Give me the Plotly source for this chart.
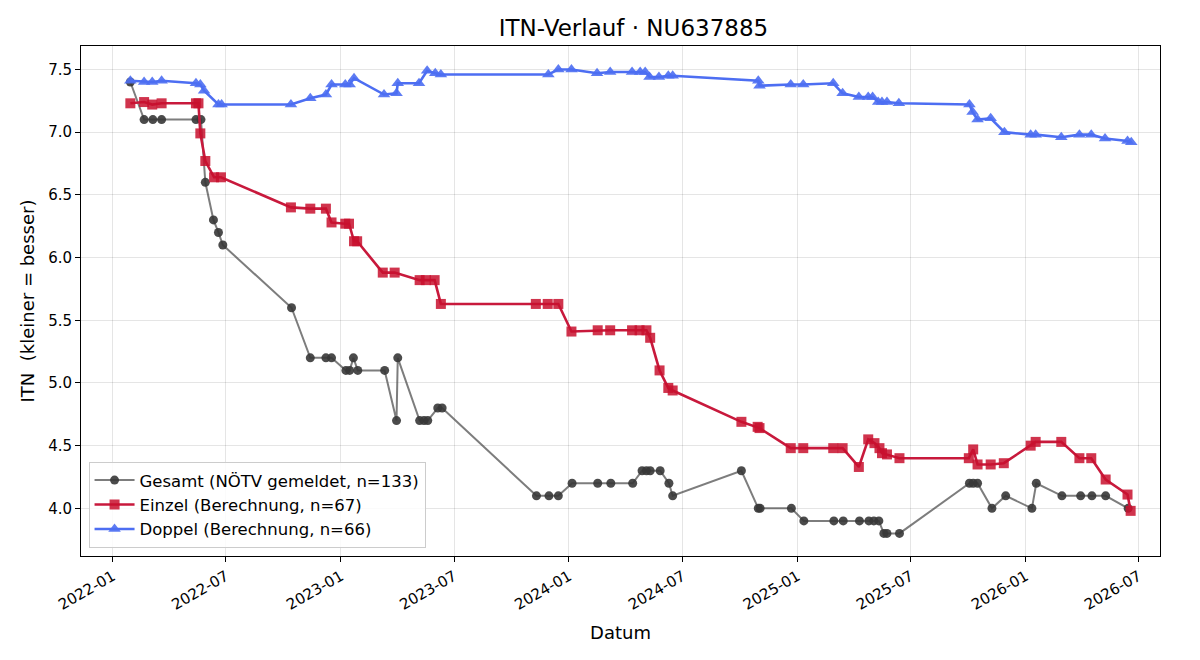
import plotly.graph_objects as go

# ---- data -------------------------------------------------------------
gesamt_dates = [
    "2022-01-29", "2022-02-20", "2022-03-06", "2022-03-20", "2022-05-14", "2022-05-22",
    "2022-05-29", "2022-06-11", "2022-06-19", "2022-06-26", "2022-10-14", "2022-11-13",
    "2022-12-08", "2022-12-17", "2023-01-09", "2023-01-15", "2023-01-21", "2023-01-28",
    "2023-03-12", "2023-03-31", "2023-04-02", "2023-05-07", "2023-05-14", "2023-05-20",
    "2023-06-05", "2023-06-12", "2023-11-10", "2023-11-30", "2023-12-15", "2024-01-06",
    "2024-02-16", "2024-03-08", "2024-04-12", "2024-04-27", "2024-05-04", "2024-05-10",
    "2024-05-26", "2024-06-09", "2024-06-15", "2024-10-03", "2024-10-30", "2024-11-02",
    "2024-12-22", "2025-01-11", "2025-02-28", "2025-03-15", "2025-04-10", "2025-04-25",
    "2025-05-03", "2025-05-11", "2025-05-19", "2025-05-24", "2025-06-13", "2025-10-03",
    "2025-10-09", "2025-10-16", "2025-11-08", "2025-11-30", "2026-01-11", "2026-01-18",
    "2026-02-28", "2026-03-30", "2026-04-17", "2026-05-09", "2026-06-14",
]
gesamt_itn = [
    7.4, 7.1, 7.1, 7.1, 7.1, 7.1,
    6.6, 6.3, 6.2, 6.1, 5.6, 5.2,
    5.2, 5.2, 5.1, 5.1, 5.2, 5.1,
    5.1, 4.7, 5.2, 4.7, 4.7, 4.7,
    4.8, 4.8, 4.1, 4.1, 4.1, 4.2,
    4.2, 4.2, 4.2, 4.3, 4.3, 4.3,
    4.3, 4.2, 4.1, 4.3, 4.0, 4.0,
    4.0, 3.9, 3.9, 3.9, 3.9, 3.9,
    3.9, 3.9, 3.8, 3.8, 3.8, 4.2,
    4.2, 4.2, 4.0, 4.1, 4.0, 4.2,
    4.1, 4.1, 4.1, 4.1, 4.0,
]

einzel_dates = [
    "2022-01-29", "2022-02-20", "2022-03-05", "2022-03-20", "2022-05-14", "2022-05-18",
    "2022-05-21", "2022-05-29", "2022-06-12", "2022-06-23", "2022-10-13", "2022-11-13",
    "2022-12-08", "2022-12-17", "2023-01-08", "2023-01-14", "2023-01-22", "2023-01-27",
    "2023-03-09", "2023-03-28", "2023-05-07", "2023-05-17", "2023-05-31", "2023-06-10",
    "2023-11-09", "2023-11-28", "2023-12-15", "2024-01-05", "2024-02-16", "2024-03-07",
    "2024-04-11", "2024-04-23", "2024-05-04", "2024-05-10", "2024-05-25", "2024-06-08",
    "2024-06-15", "2024-10-03", "2024-10-29", "2024-11-01", "2024-12-21", "2025-01-10",
    "2025-02-27", "2025-03-14", "2025-04-09", "2025-04-24", "2025-05-04", "2025-05-12",
    "2025-05-16", "2025-05-24", "2025-06-13", "2025-10-02", "2025-10-09", "2025-10-16",
    "2025-11-06", "2025-11-27", "2026-01-09", "2026-01-17", "2026-02-27", "2026-03-28",
    "2026-04-16", "2026-05-09", "2026-06-13", "2026-06-18",
]
einzel_itn = [
    7.23, 7.24, 7.22, 7.23, 7.23, 7.23,
    6.99, 6.77, 6.64, 6.64, 6.40, 6.39,
    6.39, 6.28, 6.27, 6.27, 6.13, 6.13,
    5.88, 5.88, 5.82, 5.82, 5.82, 5.63,
    5.63, 5.63, 5.63, 5.41, 5.42, 5.42,
    5.42, 5.42, 5.42, 5.36, 5.10, 4.96,
    4.94, 4.69, 4.65, 4.64, 4.48, 4.48,
    4.48, 4.48, 4.33, 4.55, 4.52, 4.48,
    4.44, 4.43, 4.40, 4.40, 4.47, 4.35,
    4.35, 4.36, 4.50, 4.53, 4.53, 4.40,
    4.40, 4.23, 4.11, 3.98,
]

doppel_dates = [
    "2022-01-29", "2022-02-20", "2022-03-05", "2022-03-20", "2022-05-14", "2022-05-21",
    "2022-05-27", "2022-06-19", "2022-06-24", "2022-10-13", "2022-11-13", "2022-12-08",
    "2022-12-17", "2023-01-08", "2023-01-15", "2023-01-22", "2023-03-11", "2023-03-31",
    "2023-04-02", "2023-05-06", "2023-05-19", "2023-06-01", "2023-06-10", "2023-11-29",
    "2023-12-15", "2024-01-05", "2024-02-15", "2024-03-07", "2024-04-11", "2024-04-24",
    "2024-05-02", "2024-05-09", "2024-05-24", "2024-06-08", "2024-06-15", "2024-10-30",
    "2024-11-01", "2024-12-21", "2025-01-10", "2025-02-27", "2025-03-14", "2025-04-09",
    "2025-04-24", "2025-05-01", "2025-05-10", "2025-05-16", "2025-05-24", "2025-06-12",
    "2025-10-03", "2025-10-08", "2025-10-16", "2025-11-06", "2025-11-28", "2026-01-09",
    "2026-01-17", "2026-02-27", "2026-03-28", "2026-04-16", "2026-05-08", "2026-06-13",
    "2026-06-19",
]
doppel_itn = [
    7.41, 7.40, 7.40, 7.41, 7.39, 7.38,
    7.33, 7.22, 7.22, 7.22, 7.27, 7.30,
    7.38, 7.38, 7.38, 7.43, 7.30, 7.31,
    7.39, 7.39, 7.49, 7.47, 7.46, 7.46,
    7.50, 7.50, 7.47, 7.48, 7.48, 7.48,
    7.48, 7.44, 7.44, 7.45, 7.45, 7.41,
    7.37, 7.38, 7.38, 7.39, 7.31, 7.28,
    7.28, 7.28, 7.24, 7.24, 7.24, 7.23,
    7.22, 7.16, 7.10, 7.11, 7.00, 6.98,
    6.98, 6.96, 6.98, 6.98, 6.95, 6.93,
    6.92,
]

series_names = [
    "Gesamt (NÖTV gemeldet, n=133)",
    "Einzel (Berechnung, n=67)",
    "Doppel (Berechnung, n=66)",
]

FONT = "DejaVu Sans"

fig = go.Figure()
fig.add_trace(go.Scatter(
    x=gesamt_dates, y=gesamt_itn, mode="lines+markers", name=series_names[0],
    line=dict(color="rgba(70,70,70,0.7)", width=2),
    marker=dict(symbol="circle", size=9, color="rgba(55,55,55,0.9)",
                line=dict(width=0)),
))
fig.add_trace(go.Scatter(
    x=einzel_dates, y=einzel_itn, mode="lines+markers", name=series_names[1],
    line=dict(color="#c8193c", width=2.6),
    marker=dict(symbol="square", size=10, color="rgba(200,16,46,0.85)",
                line=dict(width=0)),
))
fig.add_trace(go.Scatter(
    x=doppel_dates, y=doppel_itn, mode="lines+markers", name=series_names[2],
    line=dict(color="#4d6ef2", width=2.6),
    marker=dict(symbol="triangle-up", size=11, color="rgba(77,110,242,0.9)",
                line=dict(width=0)),
))

fig.update_layout(
    width=1200, height=660,
    paper_bgcolor="white", plot_bgcolor="white",
    margin=dict(l=81, r=40, t=46, b=104),
    font=dict(family=FONT, size=15, color="black"),
    title=dict(text="ITN-Verlauf · NU637885", xref="paper", x=0.512, xanchor="center",
               y=0.958, yanchor="middle", font=dict(family=FONT, size=23, color="black")),
    showlegend=True,
    legend=dict(x=0.007, y=0.016, xanchor="left", yanchor="bottom",
                bgcolor="rgba(255,255,255,0.85)", bordercolor="#cccccc", borderwidth=1,
                font=dict(family=FONT, size=16.5), tracegroupgap=0, itemwidth=40),
)
fig.update_xaxes(
    type="date", range=["2021-11-11", "2026-08-04"],
    tick0="2022-01-01", dtick="M6", tickformat="%Y-%m", tickangle=-30,
    showgrid=True, gridcolor="rgba(0,0,0,0.10)", gridwidth=1,
    showline=True, linecolor="black", linewidth=1, mirror=True,
    ticks="outside", ticklen=5, tickcolor="black",
    tickfont=dict(family=FONT, size=15),
    title=dict(text="Datum", font=dict(family=FONT, size=18), standoff=13),
    zeroline=False,
)
fig.update_yaxes(
    range=[3.62, 7.687], tick0=4.0, dtick=0.5, tickformat=".1f",
    showgrid=True, gridcolor="rgba(0,0,0,0.10)", gridwidth=1,
    showline=True, linecolor="black", linewidth=1, mirror=True,
    ticks="outside", ticklen=5, tickcolor="black",
    tickfont=dict(family=FONT, size=15),
    title=dict(text="ITN  (kleiner = besser)", font=dict(family=FONT, size=18), standoff=8),
    zeroline=False,
)

fig.write_html("out.html")
